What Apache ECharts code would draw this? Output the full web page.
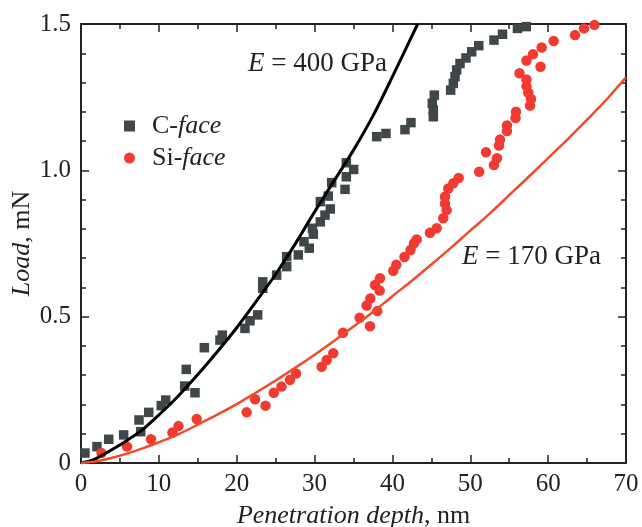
<!DOCTYPE html>
<html>
<head>
<meta charset="utf-8">
<script src="https://cdn.jsdelivr.net/npm/echarts@6/dist/echarts.min.js"></script>
<style>
html,body{margin:0;padding:0;background:#fff;}
#chart{width:642px;height:527px;}
</style>
</head>
<body>
<div id="chart"></div>
<script>
// ---- Data ----
var cFaceDepth = [0.51,2.05,3.56,5.48,7.45,7.67,8.70,10.31,10.88,13.32,13.52,14.64,15.84,17.85,18.15,21.06,21.71,22.69,23.34,23.34,25.13,26.42,26.42,27.91,29.32,28.64,29.84,29.73,30.74,31.34,32.02,30.74,31.76,32.20,33.91,34.08,35.02,34.08,37.98,39.17,41.61,42.38,45.25,45.25,45.12,45.38,47.48,47.82,48.04,48.25,48.68,49.45,50.18,51.09,53.04,54.14,56.06,57.19];
var cFaceLoad  = [0.034,0.056,0.081,0.096,0.147,0.107,0.173,0.196,0.215,0.263,0.320,0.240,0.394,0.420,0.437,0.460,0.486,0.506,0.597,0.619,0.642,0.671,0.705,0.711,0.734,0.756,0.782,0.802,0.824,0.847,0.868,0.893,0.912,0.958,0.935,0.978,1.003,1.026,1.115,1.126,1.139,1.163,1.183,1.206,1.229,1.257,1.274,1.297,1.320,1.343,1.365,1.384,1.405,1.426,1.445,1.465,1.485,1.491];

var siFaceDepth = [2.63,5.91,8.99,11.75,12.52,14.86,21.28,22.35,23.70,24.76,25.75,26.84,27.61,30.91,31.56,32.40,33.65,35.79,37.12,38.06,36.69,37.16,38.36,37.76,38.40,40.11,40.50,41.55,42.32,42.77,43.12,44.82,45.68,46.53,46.97,46.75,46.75,47.17,47.82,48.51,51.14,53.04,53.43,52.02,53.69,53.81,54.71,54.71,55.81,55.87,57.67,57.80,57.45,57.22,57.22,56.32,59.02,57.22,58.05,59.17,60.71,63.45,64.60,65.95];
var siFaceLoad  = [0.034,0.056,0.081,0.104,0.126,0.150,0.173,0.218,0.196,0.240,0.261,0.284,0.306,0.329,0.352,0.375,0.445,0.496,0.467,0.519,0.538,0.562,0.589,0.608,0.631,0.657,0.677,0.704,0.728,0.751,0.764,0.787,0.802,0.836,0.864,0.887,0.910,0.938,0.956,0.974,0.995,1.018,1.041,1.062,1.085,1.105,1.134,1.153,1.179,1.200,1.221,1.244,1.265,1.287,1.310,1.332,1.354,1.375,1.397,1.420,1.442,1.462,1.485,1.497];

var fit400Depth = [0,1,2,4,6,8,10,12.5,15,17.5,20,22.5,25,27.5,30,32.5,35,37.5,40,43.24];
var fit400Load  = [0,0.006,0.016,0.046,0.079,0.116,0.164,0.229,0.302,0.380,0.462,0.552,0.645,0.748,0.858,0.964,1.069,1.186,1.320,1.500];

var fit170Depth = [0,2,4,6,8,10,12.5,15,17.5,20,22.5,25,27.5,30,32.5,35,37.5,40,42.5,45,47.5,50,52.5,55,57.5,60,62.5,65,67.5,70];
var fit170Load  = [0,0.006,0.018,0.033,0.051,0.071,0.098,0.131,0.165,0.201,0.241,0.282,0.325,0.370,0.417,0.466,0.516,0.570,0.623,0.678,0.735,0.794,0.852,0.915,0.978,1.042,1.106,1.173,1.242,1.318];

var xTickLabels = ['0','10','20','30','40','50','60','70'];
var yTickLabels = ['0','0.5','1.0','1.5'];

var seriesNames = ['C-face','Si-face'];
var annotations = ['400 GPa','170 GPa'];

function pairs(xs, ys){ return xs.map(function(x,i){ return [x, ys[i]]; }); }

var FONT = '"Liberation Serif","DejaVu Serif",serif';
var FS = 26, TFS = 25, COL = '#222';
var chart = echarts.init(document.getElementById('chart'));

function tick(){ return {show:true,inside:true,length:8,lineStyle:{color:COL,width:1.5}}; }
function minor(n){ return {show:true,splitNumber:n,length:5,lineStyle:{color:COL,width:1.5}}; }
function line(){ return {show:true,onZero:false,lineStyle:{color:COL,width:2}}; }
var richTxt = {
  i:{fontFamily:FONT,fontSize:FS,fontStyle:'italic',color:COL},
  n:{fontFamily:FONT,fontSize:FS,color:COL}
};

var option = {
  animation:false,
  backgroundColor:'#fff',
  grid:{left:81,right:16,top:24,bottom:64,containLabel:false,outerBoundsMode:'none'},
  legend:{
    orient:'vertical',left:119,top:108,itemGap:6,
    itemWidth:11,itemHeight:11,
    data:[{name:'C-face',icon:'rect'},{name:'Si-face',icon:'circle'}],
    formatter:function(n){
      var p = n.split('-');
      return '{n|'+p[0]+'-}{i|'+p[1]+'}';
    },
    textStyle:{
      fontFamily:FONT,fontSize:FS,color:COL,
      rich:{
        n:{fontFamily:FONT,fontSize:FS,color:COL,padding:[0,0,0,12]},
        i:{fontFamily:FONT,fontSize:FS,fontStyle:'italic',color:COL}
      }
    }
  },
  xAxis:[
    {type:'value',min:0,max:70,interval:10,position:'bottom',
     axisLine:line(),axisTick:tick(),minorTick:minor(2),splitLine:{show:false},minorSplitLine:{show:false},
     axisLabel:{margin:9,fontFamily:FONT,fontSize:TFS,color:COL,
       formatter:function(v){ return xTickLabels[Math.round(v/10)]; }},
     name:'{i|Penetration depth}{n|, nm}',nameLocation:'middle',nameGap:40,nameMoveOverlap:false,
     nameTextStyle:{fontFamily:FONT,fontSize:FS,color:COL,rich:richTxt}},
    {type:'value',min:0,max:70,interval:10,position:'top',
     axisLine:line(),axisTick:tick(),minorTick:minor(2),splitLine:{show:false},
     axisLabel:{show:false}}
  ],
  yAxis:[
    {type:'value',min:0,max:1.5,interval:0.5,position:'left',
     axisLine:line(),axisTick:tick(),minorTick:minor(5),splitLine:{show:false},minorSplitLine:{show:false},
     axisLabel:{margin:10,fontFamily:FONT,fontSize:TFS,color:COL,
       formatter:function(v){ return yTickLabels[Math.round(v/0.5)]; }},
     name:'{i|Load}{n|, mN}',nameLocation:'middle',nameGap:46,nameRotate:90,nameMoveOverlap:false,
     nameTextStyle:{fontFamily:FONT,fontSize:FS,color:COL,rich:richTxt}},
    {type:'value',min:0,max:1.5,interval:0.5,position:'right',
     axisLine:line(),axisTick:tick(),minorTick:minor(5),splitLine:{show:false},
     axisLabel:{show:false}}
  ],
  series:[
    {name:seriesNames[0],type:'scatter',symbol:'rect',symbolSize:9.5,
     itemStyle:{color:'#3f4749',opacity:1},data:pairs(cFaceDepth,cFaceLoad),z:2},
    {name:seriesNames[1],type:'scatter',symbol:'circle',symbolSize:10.5,
     itemStyle:{color:'#ef3b32',opacity:1},data:pairs(siFaceDepth,siFaceLoad),z:2},
    {name:'fit400',type:'line',smooth:0.3,showSymbol:false,symbol:'none',
     lineStyle:{color:'#000',width:3},data:pairs(fit400Depth,fit400Load),z:3},
    {name:'fit170',type:'line',smooth:0.3,showSymbol:false,symbol:'none',
     lineStyle:{color:'#f24a2a',width:2.5},data:pairs(fit170Depth,fit170Load),z:3}
  ],
  graphic:[
    {type:'text',left:248,top:50,style:{
      text:'{i|E}{n| = '+annotations[0]+'}',
      rich:{i:{fontFamily:FONT,fontSize:27,fontStyle:'italic',fill:COL},n:{fontFamily:FONT,fontSize:27,fill:COL}}}},
    {type:'text',left:462,top:243,style:{
      text:'{i|E}{n| = '+annotations[1]+'}',
      rich:{i:{fontFamily:FONT,fontSize:27,fontStyle:'italic',fill:COL},n:{fontFamily:FONT,fontSize:27,fill:COL}}}}
  ]
};
chart.setOption(option);
</script>
</body>
</html>
